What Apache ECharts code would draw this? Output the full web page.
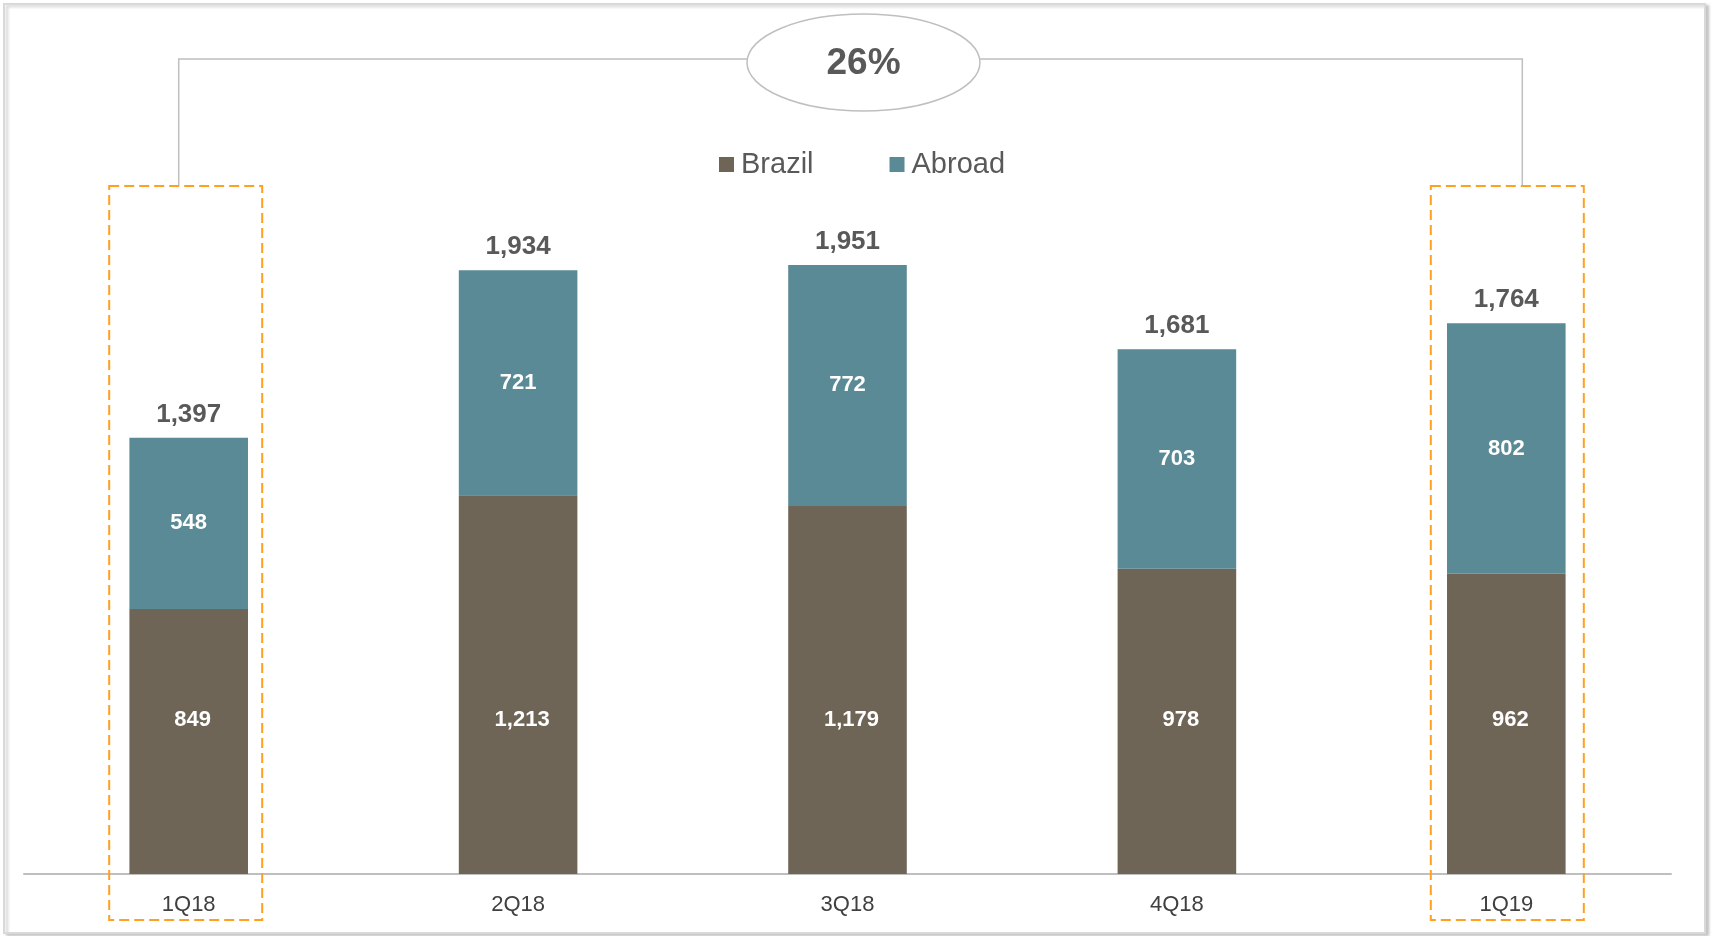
<!DOCTYPE html>
<html><head><meta charset="utf-8">
<script src="https://cdn.jsdelivr.net/npm/echarts@6/dist/echarts.min.js"></script>
<style>html,body{margin:0;padding:0;background:#fff}#c{width:1712px;height:936px}</style>
</head><body><div id="c"></div>
<script>
const categories = ['1Q18', '2Q18', '3Q18', '4Q18', '1Q19'];
const brazil = [849, 1213, 1179, 978, 962];
const abroad = [548, 721, 772, 703, 802];
const totals = [1397, 1934, 1951, 1681, 1764];
const growthLabel = '26%';
const seriesNames = ['Brazil', 'Abroad'];

const FONT = "'Liberation Sans', Arial, sans-serif";
const chart = echarts.init(document.getElementById('c'));
const option = {
  animation: false,
  backgroundColor: '#fff',
  textStyle: { fontFamily: FONT },
  grid: { left: 24, right: 41, top: 93.5, bottom: 62 },
  legend: {
    data: seriesNames,
    left: 719, top: 150, padding: 0,
    icon: 'rect', itemWidth: 15, itemHeight: 15, itemGap: 76,
    textStyle: { fontSize: 29, color: '#595959', fontFamily: FONT, padding: [0, 0, 0, 2] }
  },
  xAxis: {
    type: 'category', data: categories,
    axisLine: { lineStyle: { color: '#bfbfbf', width: 2 } },
    axisTick: { show: false },
    axisLabel: { fontSize: 22, color: '#404040', margin: 20, fontFamily: FONT }
  },
  yAxis: { type: 'value', min: 0, max: 2500, show: false, splitLine: { show: false } },
  series: [
    {
      name: seriesNames[0], type: 'bar', stack: 'a', data: brazil, barWidth: '36%',
      itemStyle: { color: '#6e6556' },
      label: { show: true, position: 'insideBottom', distance: 143, offset: [4, 0], color: '#fff', fontWeight: 'bold', fontSize: 22, fontFamily: FONT,
        formatter: p => p.value.toLocaleString('en-US') }
    },
    {
      name: seriesNames[1], type: 'bar', stack: 'a', data: abroad, barWidth: '36%',
      itemStyle: { color: '#5a8a96' },
      label: { show: true, position: 'inside', color: '#fff', fontWeight: 'bold', fontSize: 22, fontFamily: FONT,
        formatter: p => p.value.toLocaleString('en-US') }
    },
    {
      name: 'Total', type: 'bar', data: totals, barWidth: '36%', barGap: '-100%', z: 1,
      itemStyle: { color: 'rgba(0,0,0,0)' },
      label: { show: true, position: 'top', distance: 10, color: '#595959', fontWeight: 'bold', fontSize: 26, fontFamily: FONT,
        formatter: p => p.value.toLocaleString('en-US') }
    }
  ]
};
chart.setOption(option);

const x0 = chart.convertToPixel({ xAxisIndex: 0 }, categories[0]);
const x4 = chart.convertToPixel({ xAxisIndex: 0 }, categories[categories.length - 1]);
const boxW = 153, boxTop = 186, boxBot = 920;
const c0 = x0 - 3, c4 = x4 + 1;
const bL = x0 - 10, bR = x4 + 16, bY = 59;
const ecx = 863.5, ecy = 62.5;
chart.setOption({
  graphic: [
    { type: 'rect', shape: { x: 4, y: 4, width: 1701, height: 929 }, z: -10, silent: true,
      style: { fill: '#fff', stroke: '#d9d9d9', lineWidth: 2, shadowColor: 'rgba(0,0,0,0.2)', shadowBlur: 3, shadowOffsetX: 3, shadowOffsetY: 2 } },
    { type: 'rect', shape: { x: c0 - boxW / 2, y: boxTop, width: boxW, height: boxBot - boxTop }, z: 100, silent: true,
      style: { fill: 'none', stroke: '#ffa021', lineWidth: 2, lineDash: [10, 5] } },
    { type: 'rect', shape: { x: c4 - boxW / 2, y: boxTop, width: boxW, height: boxBot - boxTop }, z: 100, silent: true,
      style: { fill: 'none', stroke: '#ffa021', lineWidth: 2, lineDash: [10, 5] } },
    { type: 'polyline', shape: { points: [[bL, boxTop], [bL, bY], [bR, bY], [bR, boxTop]] }, z: 90, silent: true,
      style: { fill: 'none', stroke: '#bfbfbf', lineWidth: 1.5 } },
    { type: 'ellipse', shape: { cx: ecx, cy: ecy, rx: 116.5, ry: 48.5 }, z: 95, silent: true,
      style: { fill: '#fff', stroke: '#bfbfbf', lineWidth: 1.5 } },
    { type: 'text', x: ecx, y: ecy + 1, z: 96, silent: true,
      style: { text: growthLabel, fill: '#595959', font: "bold 37px 'Liberation Sans', Arial, sans-serif", textAlign: 'center', textVerticalAlign: 'middle' } }
  ]
});
</script></body></html>
